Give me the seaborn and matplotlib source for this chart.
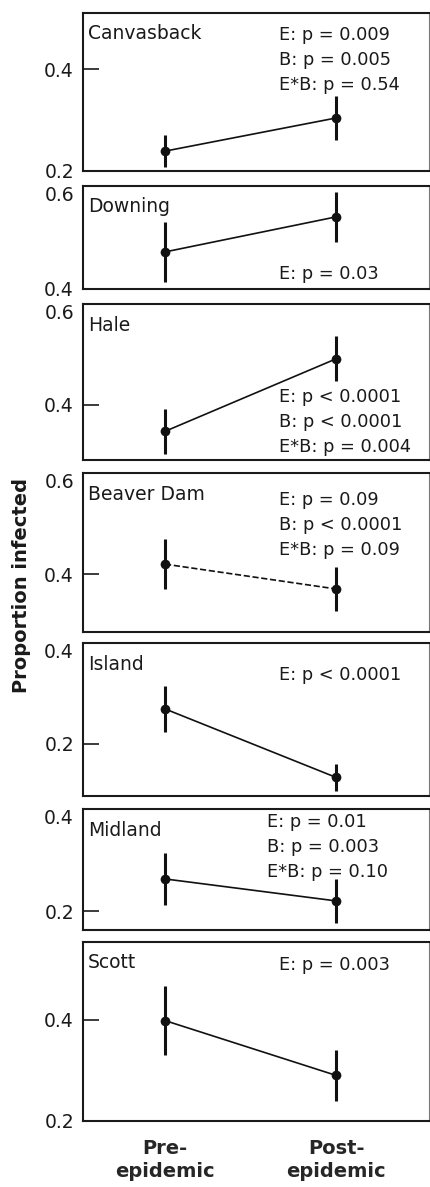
import matplotlib
matplotlib.use("Agg")
import matplotlib.pyplot as plt
import numpy as np
import pandas as pd
import seaborn as sns

# Valores (proporción infectada, media ± error)
sites = ["Canvasback", "Downing", "Hale", "Beaver Dam", "Island", "Midland", "Scott"]
periods = ["Pre-\nepidemic", "Post-\nepidemic"]
pre_mean = [0.239, 0.472, 0.347, 0.420, 0.269, 0.263, 0.398]
post_mean = [0.304, 0.540, 0.491, 0.371, 0.133, 0.220, 0.290]
pre_err = [0.032, 0.058, 0.045, 0.049, 0.045, 0.051, 0.068]
post_err = [0.043, 0.048, 0.045, 0.043, 0.027, 0.043, 0.051]
dashed_sites = ["Beaver Dam"]

stats = [
    ["E: p = 0.009", "B: p = 0.005", "E*B: p = 0.54"],
    ["E: p = 0.03"],
    ["E: p < 0.0001", "B: p < 0.0001", "E*B: p = 0.004"],
    ["E: p = 0.09", "B: p < 0.0001", "E*B: p = 0.09"],
    ["E: p < 0.0001"],
    ["E: p = 0.01", "B: p = 0.003", "E*B: p = 0.10"],
    ["E: p = 0.003"],
]

ylims = [(0.2, 0.51), (0.4, 0.6), (0.29, 0.6), (0.286, 0.6),
         (0.096, 0.4), (0.163, 0.4), (0.2, 0.553)]
yticks = [[0.2, 0.4], [0.4, 0.6], [0.4, 0.6], [0.4, 0.6],
          [0.2, 0.4], [0.2, 0.4], [0.2, 0.4]]

# Layout en píxeles (figura 430x1187)
panel_px = [(13, 171), (186, 289), (304, 460), (473, 632),
            (643, 796), (809, 930), (942, 1121)]
stat_pos = [(196, 22), (196, 88), (196, 93), (196, 27),
            (196, 32), (184, 13), (196, 23)]

W, H = 430, 1187
sns.set_style("white")
plt.rcParams["font.family"] = ["DejaVu Sans"]
plt.rcParams["axes.edgecolor"] = "#1a1a1a"
plt.rcParams["axes.linewidth"] = 1.5

df = pd.DataFrame({
    "site": np.repeat(sites, 2),
    "x": [0, 1] * len(sites),
    "mean": np.ravel(np.column_stack([pre_mean, post_mean])),
    "err": np.ravel(np.column_stack([pre_err, post_err])),
})

fig = plt.figure(figsize=(W / 100, H / 100), dpi=100)
left = 83 / W
width = 346 / W

for i, site in enumerate(sites):
    top, bot = panel_px[i]
    ax = fig.add_axes([left, 1 - bot / H, width, (bot - top) / H])
    sub = df[df["site"] == site]
    ls = "--" if site in dashed_sites else "-"
    sns.lineplot(data=sub, x="x", y="mean", ax=ax, color="#111111",
                 linewidth=1.2, linestyle=ls, marker="o", markersize=7,
                 markeredgewidth=0)
    ax.errorbar(sub["x"], sub["mean"], yerr=sub["err"], fmt="none",
                ecolor="#111111", elinewidth=2.2, capsize=0)

    ax.set_xlim(-0.48, 1.544)
    ax.set_ylim(*ylims[i])
    ax.set_yticks(yticks[i])
    ax.set_yticklabels([f"{t:.1f}" for t in yticks[i]])
    ax.tick_params(axis="y", left=True, direction="in", length=11.5,
                   width=1.2, pad=6.5, labelsize=13.5, colors="#1a1a1a")
    # las etiquetas en el borde superior quedan por dentro
    for t, lab in zip(yticks[i], ax.get_yticklabels()):
        if abs(t - ylims[i][1]) < 1e-9:
            lab.set_verticalalignment("top")
    ax.set_xlabel("")
    ax.set_ylabel("")
    for sp in ax.spines.values():
        sp.set_visible(True)
    ax.spines["right"].set_linewidth(0.8)
    ax.spines["right"].set_color("#777777")

    if i == len(sites) - 1:
        ax.set_xticks([0, 1])
        ax.set_xticklabels(periods, fontsize=14, fontweight="bold",
                           linespacing=1.25)
        ax.tick_params(axis="x", length=0, pad=13)
    else:
        ax.set_xticks([])

    ax.annotate(site, xy=(0, 1), xycoords="axes fraction",
                xytext=(5, -21), textcoords="offset pixels",
                ha="left", va="center", fontsize=13.5, color="#1a1a1a")
    dx, dy = stat_pos[i]
    for j, s in enumerate(stats[i]):
        ax.annotate(s, xy=(0, 1), xycoords="axes fraction",
                    xytext=(dx, -(dy + 25 * j)), textcoords="offset pixels",
                    ha="left", va="center", fontsize=12.8, color="#1a1a1a")

fig.text(22 / W, 1 - 585 / H, "Proportion infected", rotation=90,
         ha="center", va="center", fontsize=14, fontweight="bold",
         color="#1a1a1a")

fig.savefig("out.png", dpi=100)
